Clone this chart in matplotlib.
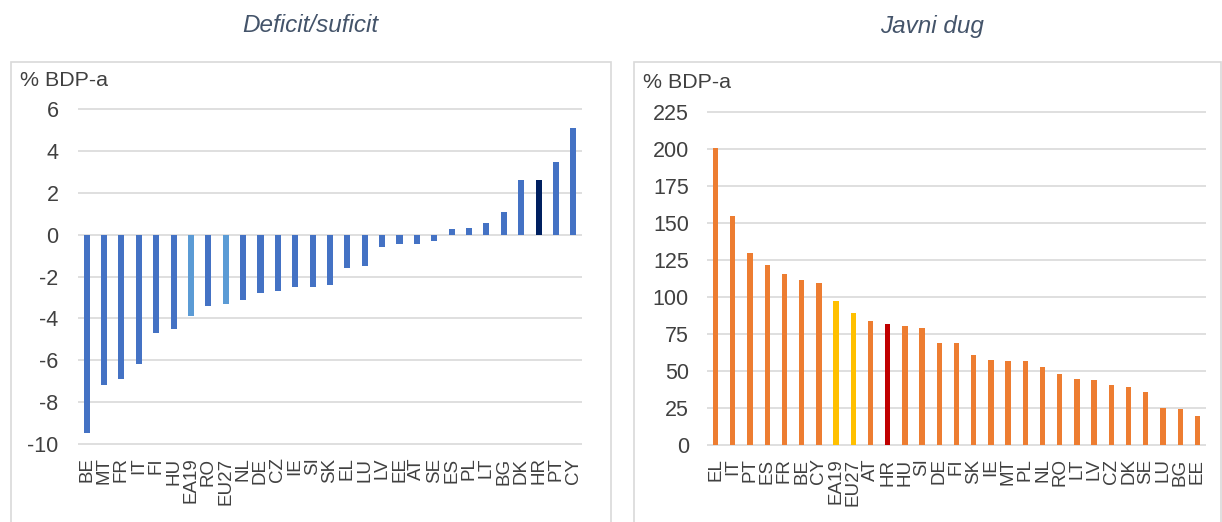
import matplotlib
matplotlib.use("Agg")
import matplotlib.pyplot as plt
from matplotlib.patches import Rectangle

plt.rcParams['font.family'] = ['Liberation Sans', 'DejaVu Sans']
plt.rcParams['axes.unicode_minus'] = False

# deficit / surplus, % of GDP
deficit_labels = ["BE", "MT", "FR", "IT", "FI", "HU", "EA19", "RO", "EU27", "NL",
                  "DE", "CZ", "IE", "SI", "SK", "EL", "LU", "LV", "EE", "AT",
                  "SE", "ES", "PL", "LT", "BG", "DK", "HR", "PT", "CY"]
deficit_values = [-9.5, -7.2, -6.9, -6.2, -4.7, -4.5, -3.9, -3.4, -3.3, -3.1,
                  -2.8, -2.7, -2.5, -2.5, -2.4, -1.6, -1.5, -0.6, -0.45, -0.45,
                  -0.3, 0.3, 0.35, 0.55, 1.1, 2.6, 2.6, 3.5, 5.1]

# public debt, % of GDP
debt_labels = ["EL", "IT", "PT", "ES", "FR", "BE", "CY", "EA19", "EU27", "AT",
               "HR", "HU", "SI", "DE", "FI", "SK", "IE", "MT", "PL", "NL",
               "RO", "LT", "LV", "CZ", "DK", "SE", "LU", "BG", "EE"]
debt_values = [200.7, 155, 130, 121.3, 115.3, 111.3, 109.5, 97.4, 89.5, 83.5,
               81.9, 80.1, 79.2, 68.7, 68.7, 60.9, 57.5, 56.6, 56.6, 52.4,
               48.1, 44.8, 43.9, 40.3, 39.4, 36.0, 24.8, 24.0, 19.7]

W, H = 1222, 522
fig = plt.figure(figsize=(W / 100, H / 100), dpi=100)

def px_axes(x0, y_top, x1, y_bot):
    return fig.add_axes([x0 / W, (H - y_bot) / H, (x1 - x0) / W, (y_bot - y_top) / H])

# panel frames (run off the bottom of the picture)
for x0, x1 in [(10.5, 611), (634, 1221)]:
    fig.patches.append(Rectangle((x0 / W, -0.1), (x1 - x0) / W, (H - 62) / H + 0.1,
                                 transform=fig.transFigure, fill=False,
                                 edgecolor="#D9D9D9", linewidth=1.2))

text_col = "#404040"

def style(ax, ypad):
    for s in ax.spines.values():
        s.set_visible(False)
    ax.tick_params(axis="both", length=0, colors=text_col)
    ax.tick_params(axis="y", labelsize=15.5, pad=ypad)
    ax.tick_params(axis="x", labelsize=13.5, pad=9, labelrotation=90)
    ax.yaxis.grid(True, color="#D9D9D9", linewidth=1.2)
    ax.set_axisbelow(True)

# left chart
ax1 = px_axes(78, 108.3, 582, 445)
col1 = []
for lab in deficit_labels:
    if lab in ("EA19", "EU27"):
        col1.append("#5B9BD5")
    elif lab == "HR":
        col1.append("#002060")
    else:
        col1.append("#4472C4")
ax1.bar(range(len(deficit_labels)), deficit_values, width=0.35, color=col1)
ax1.set_xlim(-0.5, len(deficit_labels) - 0.5)
ax1.set_ylim(-10.05, 6.05)
ax1.set_yticks(range(-10, 7, 2))
ax1.set_xticks(range(len(deficit_labels)))
ax1.set_xticklabels(deficit_labels)
style(ax1, 14)

# right chart
ax2 = px_axes(707, 111, 1206, 446)
col2 = []
for lab in debt_labels:
    if lab in ("EA19", "EU27"):
        col2.append("#FFC000")
    elif lab == "HR":
        col2.append("#C00000")
    else:
        col2.append("#ED7D31")
ax2.bar(range(len(debt_labels)), debt_values, width=0.31, color=col2)
ax2.set_xlim(-0.5, len(debt_labels) - 0.5)
ax2.set_ylim(-0.7, 225.7)
ax2.set_yticks(range(0, 226, 25))
ax2.set_xticks(range(len(debt_labels)))
ax2.set_xticklabels(debt_labels)
style(ax2, 13)

# units labels and titles
fig.text(20 / W, 1 - 80 / H, "% BDP-a", fontsize=15.4, color=text_col, va="center", ha="left")
fig.text(643 / W, 1 - 82 / H, "% BDP-a", fontsize=15.4, color=text_col, va="center", ha="left")
fig.text(310 / W, 1 - 26 / H, "Deficit/suficit", fontsize=17.5, style="italic",
         color="#44546A", ha="center", va="center")
fig.text(932 / W, 1 - 26 / H, "Javni dug", fontsize=17.5, style="italic",
         color="#44546A", ha="center", va="center")

fig.savefig("out.png", dpi=100)
